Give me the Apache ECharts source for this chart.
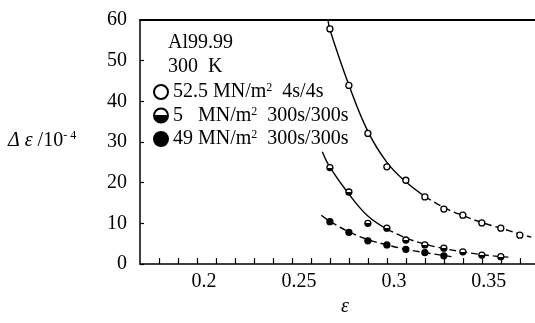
<!DOCTYPE html>
<html>
<head>
<meta charset="utf-8">
<script src="https://cdn.jsdelivr.net/npm/echarts@6/dist/echarts.min.js"></script>
<style>
  html, body { margin: 0; padding: 0; background: #fff; }
  #chart { width: 535px; height: 323px; }
</style>
</head>
<body>
<div id="chart"></div>
<script>
// measured points: strain (x) and strain increment (Δε / 10^-4)
const epsA = [0.27, 0.28, 0.29, 0.30, 0.31, 0.32, 0.33, 0.34, 0.35, 0.36, 0.37];
const dA = [57.8, 43.9, 32.1, 23.9, 20.6, 16.5, 13.5, 12.0, 10.1, 8.8, 7.1];
const epsB = [0.27, 0.28, 0.29, 0.30, 0.31, 0.32, 0.33, 0.34, 0.35, 0.36];
const dB = [23.7, 17.7, 10.0, 8.8, 5.9, 4.7, 3.9, 3.0, 2.2, 1.8];
const epsC = [0.27, 0.28, 0.29, 0.30, 0.31, 0.32, 0.33];
const dC = [10.4, 7.8, 5.7, 4.7, 3.6, 2.8, 2.0];

// the hand-drawn fit curves
const fitXA = [0.269, 0.27, 0.28, 0.29, 0.30, 0.31, 0.32, 0.33, 0.34, 0.35, 0.36, 0.37, 0.376];
const fitYA = [60, 57.6, 44.0, 32.6, 25.0, 20.2, 16.6, 13.9, 11.9, 10.2, 8.8, 7.4, 6.6];
const fitXB = [0.266, 0.27, 0.28, 0.29, 0.30, 0.31, 0.32, 0.33, 0.34, 0.35, 0.36, 0.364];
const fitYB = [27.6, 23.8, 17.2, 11.8, 8.6, 6.4, 4.9, 3.8, 3.0, 2.3, 1.8, 1.7];
const fitXC = [0.2655, 0.27, 0.28, 0.29, 0.30, 0.31, 0.32, 0.33, 0.334];
const fitYC = [12.0, 10.5, 7.9, 6.0, 4.7, 3.6, 2.8, 2.1, 1.8];
const solidUntilA = 0.32, solidUntilB = 0.30;

const seriesNames = ['52.5 MN/m2  4s/4s', '5   MN/m2  300s/300s', '49 MN/m2  300s/300s'];
const xLabels = [0.2, 0.25, 0.3, 0.35];
const xTicks = [];
for (let k = 18; k <= 37; k++) xTicks.push(k / 100);

const pts = (xs, ys) => xs.map((x, i) => [x, ys[i]]);
const A = pts(epsA, dA), B = pts(epsB, dB), C = pts(epsC, dC);
const FA = pts(fitXA, fitYA), FB = pts(fitXB, fitYB), FC = pts(fitXC, fitYC);

const serif = 'Liberation Serif';
const halfFill = {
  type: 'linear', x: 0, y: 0, x2: 0, y2: 1,
  colorStops: [
    { offset: 0, color: '#fff' }, { offset: 0.5, color: '#fff' },
    { offset: 0.5, color: '#000' }, { offset: 1, color: '#000' }
  ]
};

const curve = (data, dashed) => ({
  type: 'line',
  data: data,
  smooth: 0.4,
  showSymbol: false,
  silent: true,
  lineStyle: { color: '#000', width: 1.4, type: dashed ? [7, 4] : 'solid' },
  z: 1
});

const marks = (name, data, fill, size) => ({
  type: 'scatter',
  name: name,
  data: data,
  symbol: 'circle',
  symbolSize: size,
  itemStyle: { color: fill, borderColor: '#000', borderWidth: 1.3, opacity: 1 },
  z: 3
});

const chart = echarts.init(document.getElementById('chart'));
chart.setOption({
  animation: false,
  backgroundColor: '#fff',
  grid: { left: 140, right: 0, top: 20, bottom: 59 },
  xAxis: [{
    type: 'value',
    min: 0.17,
    max: 0.378,
    axisLine: { lineStyle: { color: '#000', width: 1.5 } },
    axisTick: { inside: true, length: 6, customValues: xTicks, lineStyle: { color: '#000', width: 1.2 } },
    axisLabel: {
      customValues: xLabels, margin: 8, color: '#000',
      fontFamily: serif, fontSize: 20, padding: [0, 0, 0, 14]
    },
    splitLine: { show: false }
  }, {
    type: 'value',
    position: 'top',
    min: 0.17,
    max: 0.378,
    axisLine: { show: true, lineStyle: { color: '#000', width: 2 } },
    axisTick: { show: false },
    axisLabel: { show: false },
    splitLine: { show: false }
  }],
  yAxis: {
    type: 'value',
    min: 0,
    max: 60,
    interval: 10,
    axisLine: { show: true, lineStyle: { color: '#000', width: 1.5 } },
    axisTick: { show: true, inside: true, length: 4, lineStyle: { color: '#000', width: 1.2 } },
    axisLabel: { margin: 13, color: '#000', fontFamily: serif, fontSize: 20 },
    splitLine: { show: false }
  },
  legend: {
    data: seriesNames,
    orient: 'vertical',
    left: 148,
    top: 77,
    itemWidth: 14,
    itemHeight: 14,
    itemGap: 3.5,
    icon: 'circle',
    selectedMode: false,
    textStyle: {
      color: '#000', fontFamily: serif, fontSize: 20, lineHeight: 20,
      rich: { sup: { fontFamily: serif, fontSize: 12, padding: [0, 0, 8, 0] } }
    },
    formatter: (name) => name.replace('m2', 'm{sup|2}')
  },
  graphic: [
    { type: 'text', left: 168, top: 33, style: { text: 'Al99.99', font: '20px "Liberation Serif"', fill: '#000' } },
    { type: 'text', left: 168, top: 57, style: { text: '300  K', font: '20px "Liberation Serif"', fill: '#000' } },
    {
      type: 'text', left: 8, top: 130,
      style: {
        text: '{i|Δ ε} /10{s|- 4}',
        rich: {
          i: { fontFamily: serif, fontStyle: 'italic', fontSize: 20, fill: '#000' },
          s: { fontFamily: serif, fontSize: 12, padding: [0, 0, 9, 0] }
        },
        font: '20px "Liberation Serif"', fill: '#000'
      }
    },
    { type: 'text', left: 341, top: 297, style: { text: 'ε', font: 'italic 20px "Liberation Serif"', fill: '#000' } }
  ],
  series: [
    curve(FA.filter(p => p[0] <= solidUntilA), false),
    curve(FA.filter(p => p[0] >= solidUntilA), true),
    curve(FB.filter(p => p[0] <= solidUntilB), false),
    curve(FB.filter(p => p[0] >= solidUntilB), true),
    curve(FC, true),
    marks(seriesNames[0], A, '#fff', 6),
    marks(seriesNames[1], B, halfFill, 6),
    marks(seriesNames[2], C, '#000', 6)
  ]
});
</script>
</body>
</html>
